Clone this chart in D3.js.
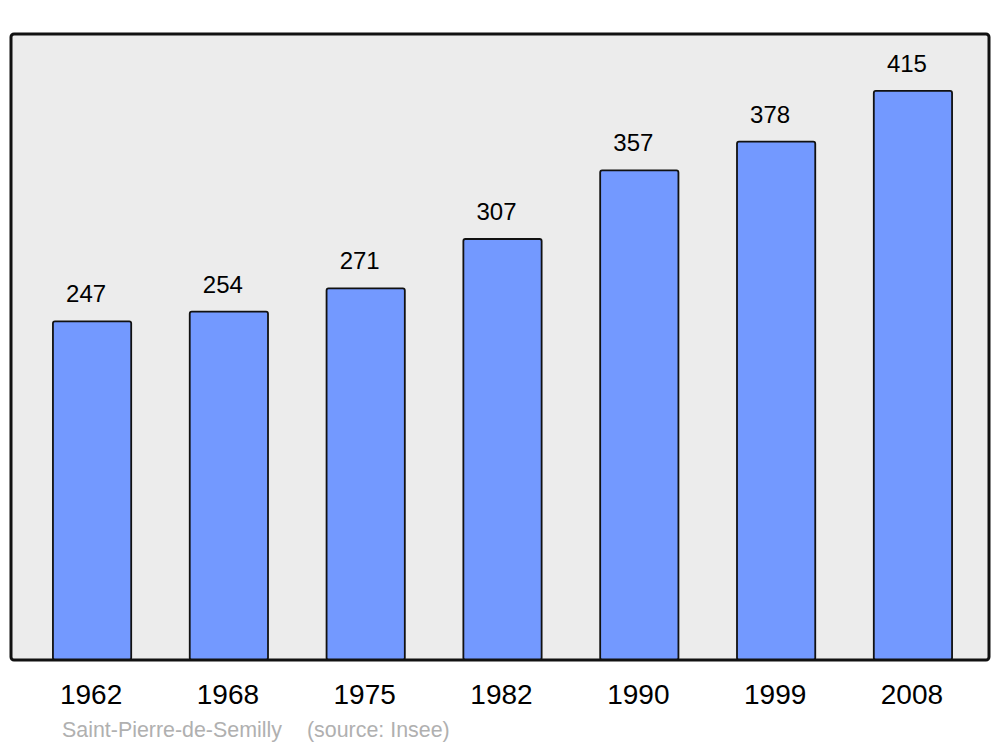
<!DOCTYPE html>
<html>
<head>
<meta charset="utf-8">
<script src="https://cdn.jsdelivr.net/npm/d3@7"></script>
<style>
  body { margin: 0; background: #fff; }
  svg { display: block; font-family: "Liberation Sans", Arial, sans-serif; }
</style>
</head>
<body>
<svg id="chart" width="1000" height="747"></svg>
<script>
// population per census year
var years = ['1962', '1968', '1975', '1982', '1990', '1999', '2008'];
var population = [247, 254, 271, 307, 357, 378, 415];
var commune = 'Saint-Pierre-de-Semilly';
var source = '(source: Insee)';

var svg = d3.select('#chart');

var frame = { left: 11, top: 34, right: 989, bottom: 660 };

var x = d3.scaleBand()
  .domain(years)
  .range([16, 989])
  .paddingInner(0.428)
  .paddingOuter(0.27);

var y = d3.scaleLinear()
  .domain([0, d3.max(population) * 1.1])
  .range([frame.bottom, frame.top]);

// background panel
svg.append('rect')
  .attr('x', frame.left)
  .attr('y', frame.top)
  .attr('width', frame.right - frame.left)
  .attr('height', frame.bottom - frame.top)
  .attr('rx', 3)
  .attr('fill', '#ececec');

var data = years.map(function(yr, i) { return { year: yr, value: population[i] }; });

svg.append('g').selectAll('rect')
  .data(data)
  .enter().append('rect')
  .attr('x', function(d) { return x(d.year); })
  .attr('y', function(d) { return y(d.value); })
  .attr('width', x.bandwidth())
  .attr('height', function(d) { return y(0) - y(d.value); })
  .attr('rx', 2)
  .attr('fill', '#7399ff')
  .attr('stroke', '#111')
  .attr('stroke-width', 1.8);

// value labels above bars
svg.append('g').selectAll('text')
  .data(data)
  .enter().append('text')
  .attr('x', function(d) { return x(d.year) + x.bandwidth() / 2 - 6; })
  .attr('y', function(d) { return y(d.value) - 19; })
  .attr('text-anchor', 'middle')
  .attr('font-size', 24)
  .attr('fill', '#000')
  .text(function(d) { return d.value; });

// frame border drawn on top
svg.append('rect')
  .attr('x', frame.left)
  .attr('y', frame.top)
  .attr('width', frame.right - frame.left)
  .attr('height', frame.bottom - frame.top)
  .attr('rx', 3)
  .attr('fill', 'none')
  .attr('stroke', '#111')
  .attr('stroke-width', 3);

// year axis
var axis = svg.append('g')
  .attr('transform', 'translate(0,' + frame.bottom + ')')
  .call(d3.axisBottom(x).tickSize(0).tickPadding(0));
axis.select('.domain').remove();
axis.selectAll('text')
  .attr('x', -1)
  .attr('y', 44)
  .attr('dy', 0)
  .attr('font-size', 28)
  .attr('font-family', '"Liberation Sans", Arial, sans-serif')
  .attr('fill', '#000');

svg.append('text')
  .attr('x', 62)
  .attr('y', 737)
  .attr('font-size', 21.4)
  .attr('fill', '#b0b0b0')
  .text(commune);

svg.append('text')
  .attr('x', 307)
  .attr('y', 737)
  .attr('font-size', 21.4)
  .attr('fill', '#b0b0b0')
  .text(source);
</script>
</body>
</html>
